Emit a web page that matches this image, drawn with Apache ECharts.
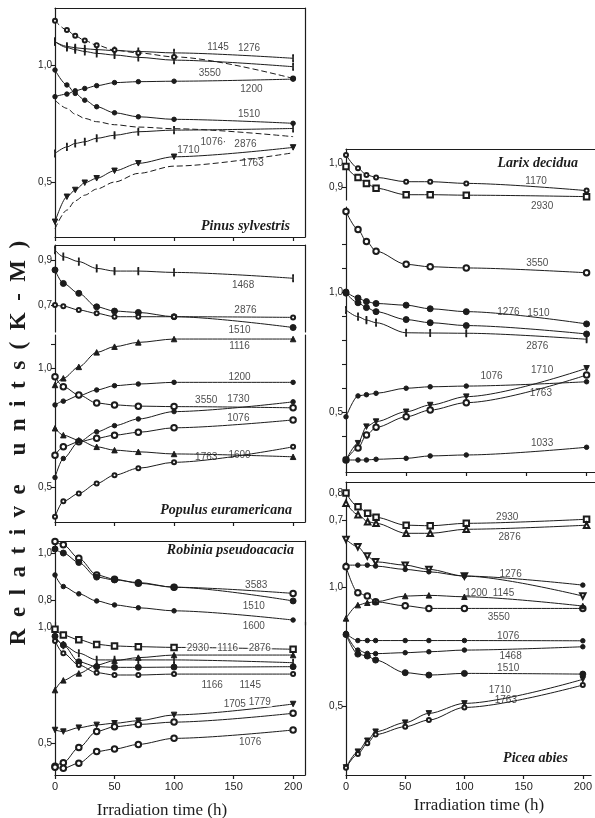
<!DOCTYPE html>
<html>
<head>
<meta charset="UTF-8">
<title>Relative units (K-M) vs irradiation time</title>
<script src="https://cdn.jsdelivr.net/npm/echarts@6/dist/echarts.min.js"></script>
<style>
html, body { margin: 0; padding: 0; background: #fff; }
#main { width: 595px; height: 818px; }
</style>
</head>
<body>
<div id="main"></div>
<script>
// ---- data (irradiation time in h, relative units K-M) ----
var xTicks = [0, 50, 100, 150, 200];

// Pinus sylvestris
var pinusT = [0, 10, 17, 25, 35, 50, 70, 100, 200];
var pinus1145 = [1.10, 1.080, 1.074, 1.070, 1.066, 1.062, 1.058, 1.052, 1.029];
var pinus1276 = [1.10, 1.075, 1.066, 1.058, 1.050, 1.043, 1.033, 1.021, 0.993];
var pinus3550 = [1.19, 1.15, 1.125, 1.105, 1.085, 1.064, 1.052, 1.035, 0.943];
var pinus1200 = [0.865, 0.876, 0.89, 0.90, 0.912, 0.925, 0.929, 0.931, 0.94];
var pinus1510 = [0.979, 0.915, 0.879, 0.85, 0.822, 0.796, 0.779, 0.768, 0.751];
var pinus1076 = [0.85, 0.815, 0.79, 0.772, 0.758, 0.745, 0.735, 0.728, 0.694];
var pinus2876 = [0.622, 0.65, 0.665, 0.672, 0.687, 0.70, 0.715, 0.722, 0.729];
var pinus1710 = [0.33, 0.437, 0.466, 0.497, 0.516, 0.548, 0.58, 0.608, 0.648];
var pinus1763 = [0.30, 0.38, 0.42, 0.444, 0.47, 0.50, 0.537, 0.568, 0.625];

// Populus euramericana
var populusT = [0, 7, 20, 35, 50, 70, 100, 200];
var popTop1468 = [0.944, 0.915, 0.893, 0.863, 0.851, 0.851, 0.845, 0.819];
var popTop1510 = [0.856, 0.796, 0.752, 0.692, 0.673, 0.667, 0.648, 0.60];
var popTop2876 = [0.70, 0.695, 0.678, 0.663, 0.648, 0.648, 0.648, 0.645];
var pop1116 = [0.929, 0.957, 1.005, 1.066, 1.09, 1.108, 1.122, 1.122];
var pop1200 = [0.845, 0.861, 0.884, 0.908, 0.926, 0.933, 0.94, 0.94];
var pop3550 = [0.963, 0.922, 0.887, 0.853, 0.845, 0.84, 0.838, 0.833];
var pop1730 = [0.54, 0.62, 0.69, 0.732, 0.758, 0.786, 0.817, 0.858];
var pop1076 = [0.634, 0.669, 0.69, 0.705, 0.718, 0.73, 0.749, 0.782];
var pop1600 = [0.747, 0.718, 0.697, 0.669, 0.655, 0.648, 0.639, 0.627];
var pop1763 = [0.375, 0.44, 0.473, 0.515, 0.55, 0.579, 0.604, 0.669];

// Robinia pseudoacacia
var robiniaT = [0, 7, 20, 35, 50, 70, 100, 200];
var robTop3583 = [1.048, 1.034, 0.977, 0.906, 0.888, 0.871, 0.854, 0.828];
var robTop1510 = [1.016, 0.999, 0.959, 0.897, 0.885, 0.874, 0.854, 0.796];
var robTop1600 = [0.906, 0.857, 0.826, 0.796, 0.779, 0.767, 0.754, 0.715];
var rob2930 = [0.99, 0.965, 0.945, 0.925, 0.918, 0.915, 0.912, 0.904];
var rob1116 = [0.728, 0.77, 0.80, 0.836, 0.855, 0.868, 0.879, 0.879];
var rob2876 = [0.958, 0.922, 0.887, 0.858, 0.858, 0.858, 0.858, 0.846];
var rob1166 = [0.96, 0.922, 0.85, 0.829, 0.826, 0.826, 0.827, 0.829];
var rob1145 = [0.94, 0.887, 0.836, 0.803, 0.793, 0.793, 0.797, 0.797];
var rob1705 = [0.556, 0.549, 0.566, 0.578, 0.585, 0.596, 0.621, 0.668];
var rob1779 = [0.40, 0.415, 0.48, 0.55, 0.57, 0.58, 0.59, 0.628];
var rob1076 = [0.395, 0.391, 0.413, 0.463, 0.474, 0.494, 0.52, 0.556];

// Larix decidua
var larixT = [0, 10, 17, 25, 50, 70, 100, 200];
var larTop1170 = [1.033, 0.978, 0.95, 0.94, 0.922, 0.922, 0.915, 0.885];
var larTop2930 = [0.985, 0.94, 0.915, 0.895, 0.868, 0.868, 0.866, 0.86];
var lar3550 = [1.335, 1.26, 1.21, 1.17, 1.115, 1.105, 1.10, 1.08];
var lar1276 = [1.0, 0.975, 0.96, 0.952, 0.945, 0.93, 0.918, 0.867];
var lar1510 = [0.995, 0.955, 0.935, 0.918, 0.885, 0.872, 0.86, 0.825];
var lar2876 = [0.925, 0.897, 0.883, 0.872, 0.83, 0.829, 0.828, 0.803];
var lar1076 = [0.48, 0.567, 0.572, 0.578, 0.599, 0.605, 0.608, 0.626];
var lar1710 = [0.30, 0.37, 0.439, 0.46, 0.501, 0.529, 0.564, 0.682];
var lar1763 = [0.30, 0.35, 0.404, 0.436, 0.48, 0.508, 0.539, 0.654];
var lar1033 = [0.30, 0.30, 0.30, 0.303, 0.307, 0.317, 0.321, 0.353];

// Picea abies
var piceaT = [0, 10, 18, 25, 50, 70, 100, 200];
var picTop2930 = [0.80, 0.749, 0.725, 0.71, 0.681, 0.679, 0.688, 0.703];
var picTop2876 = [0.762, 0.72, 0.694, 0.688, 0.651, 0.651, 0.666, 0.681];
var pic1145 = [1.20, 1.169, 1.13, 1.106, 1.092, 1.074, 1.046, 0.962];
var pic1276 = [1.092, 1.092, 1.092, 1.088, 1.074, 1.064, 1.046, 1.008];
var pic3550 = [1.085, 0.976, 0.962, 0.938, 0.921, 0.91, 0.91, 0.91];
var pic1200 = [0.868, 0.924, 0.934, 0.938, 0.962, 0.965, 0.959, 0.92];
var pic1076 = [0.805, 0.775, 0.775, 0.775, 0.775, 0.775, 0.775, 0.774];
var pic1468 = [0.805, 0.735, 0.721, 0.72, 0.724, 0.728, 0.735, 0.749];
var pic1510 = [0.80, 0.718, 0.71, 0.693, 0.64, 0.63, 0.637, 0.634];
var pic1710 = [0.242, 0.308, 0.354, 0.392, 0.43, 0.469, 0.511, 0.612];
var pic1763 = [0.24, 0.298, 0.343, 0.38, 0.413, 0.441, 0.494, 0.588];

// ---- curves: [panel, times, values, marker, dashed] ----
var curves = [
  [0, pinusT, pinus1145, 'tick'], [0, pinusT, pinus1276, 'tick'],
  [0, pinusT, pinus3550, 'small', true], [0, pinusT, pinus1200, 'dot'],
  [0, pinusT, pinus1510, 'dot'], [0, pinusT, pinus1076, 'none', true],
  [0, pinusT, pinus2876, 'tick'], [0, pinusT, pinus1710, 'itri'],
  [0, pinusT, pinus1763, 'none', true],
  [1, populusT, popTop1468, 'tick'], [1, populusT, popTop1510, 'big'], [1, populusT, popTop2876, 'small'],
  [2, populusT, pop1116, 'tri'], [2, populusT, pop1200, 'dot'], [2, populusT, pop3550, 'open'],
  [2, populusT, pop1730, 'dot'], [2, populusT, pop1076, 'open'], [2, populusT, pop1600, 'tri'],
  [2, populusT, pop1763, 'small'],
  [3, robiniaT, robTop3583, 'open'], [3, robiniaT, robTop1510, 'big'], [3, robiniaT, robTop1600, 'dot'],
  [4, robiniaT, rob2930, 'sq'], [4, robiniaT, rob1116, 'tri'], [4, robiniaT, rob2876, 'tick'],
  [4, robiniaT, rob1166, 'big'], [4, robiniaT, rob1145, 'small'], [4, robiniaT, rob1705, 'itri'],
  [4, robiniaT, rob1779, 'open'], [4, robiniaT, rob1076, 'open'],
  [5, larixT, larTop1170, 'small'], [5, larixT, larTop2930, 'sq'],
  [6, larixT, lar3550, 'open'], [6, larixT, lar1276, 'big'], [6, larixT, lar1510, 'big'],
  [6, larixT, lar2876, 'tick'], [6, larixT, lar1076, 'dot'], [6, larixT, lar1710, 'itri'],
  [6, larixT, lar1763, 'open'], [6, larixT, lar1033, 'dot'],
  [7, piceaT, picTop2930, 'sq'], [7, piceaT, picTop2876, 'otri'],
  [8, piceaT, pic1145, 'oitri'], [8, piceaT, pic1276, 'dot'], [8, piceaT, pic3550, 'open'],
  [8, piceaT, pic1200, 'tri'], [8, piceaT, pic1076, 'dot'], [8, piceaT, pic1468, 'dot'],
  [8, piceaT, pic1510, 'big'], [8, piceaT, pic1710, 'itri'], [8, piceaT, pic1763, 'small']
];

// ---- curve names written next to the lines: [text, t, value] ----
var notes = [
  [['1145', 137, 1.077], ['1276', 163, 1.073], ['3550', 130, 0.966], ['1200', 165, 0.897],
   ['1510', 163, 0.79], ['1076·', 133, 0.67], ['2876', 160, 0.662], ['1710', 112, 0.637], ['1763', 166, 0.58]],
  [['1468', 158, 0.789], ['2876', 160, 0.678], ['1510', 155, 0.589]],
  [['1116', 155, 1.092], ['1200', 155, 0.962], ['3550', 127, 0.863], ['1730', 154, 0.868],
   ['1076', 154, 0.791], ['1763', 127, 0.627], ['1600', 155, 0.634]],
  [['3583', 169, 0.864], ['1510', 167, 0.774], ['1600', 167, 0.69]],
  [['2930', 120, 0.908], ['1116', 145, 0.908], ['2876', 172, 0.908], ['1166', 132, 0.75],
   ['1145', 164, 0.75], ['1705', 151, 0.668], ['1779', 172, 0.677], ['1076', 164, 0.504]],
  [['1170', 158, 0.925], ['2930', 163, 0.82]],
  [['3550', 159, 1.12], ['1276', 135, 0.915], ['1510', 160, 0.91], ['2876', 159, 0.775],
   ['1076', 121, 0.65], ['1710', 163, 0.675], ['1763', 162, 0.58], ['1033', 163, 0.37]],
  [['2930', 134, 0.711], ['2876', 136, 0.637]],
  [['1276', 139, 1.055], ['1145', 133, 0.973], ['1200', 110, 0.973], ['3550', 129, 0.875],
   ['1076', 137, 0.794], ['1468', 139, 0.71], ['1510', 137, 0.658], ['1710', 130, 0.567], ['1763', 135, 0.525]]
];

// ---- layout of the sub-plots ----
var ink = '#1c1c1c';
var panels = [
  {left: 55, width: 250, top: 8, height: 229, xmax: 210, ymin: 0.265, ymax: 1.244, yLab: [0.5, 1.0], yTick: [0.5, 1.0], cap: true, base: true},
  {left: 55, width: 250, top: 245, height: 87, xmax: 210, ymin: 0.58, ymax: 0.967, yLab: [0.7, 0.9], yTick: [0.7, 0.9], cap: true},
  {left: 55, width: 250, top: 335, height: 187, xmax: 210, ymin: 0.353, ymax: 1.139, yLab: [0.5, 1.0], yTick: [0.5, 1.0, 1.1], base: true},
  {left: 55, width: 250, top: 541, height: 84, xmax: 210, ymin: 0.694, ymax: 1.05, yLab: [0.8, 1.0], yTick: [0.8, 1.0], cap: true},
  {left: 55, width: 250, top: 622, height: 153, xmax: 210, ymin: 0.362, ymax: 1.0215, yLab: [0.5, 1.0], yTick: [0.5, 1.0], base: true, xLab: true},
  {left: 346, width: 249, top: 149, height: 51, xmax: 207, ymin: 0.846, ymax: 1.058, yLab: [0.9, 1.0], yTick: [0.9, 1.0], cap: true, open: true},
  {left: 346, width: 249, top: 207, height: 265, xmax: 207, ymin: 0.25, ymax: 1.354, yLab: [0.5, 1.0], yTick: [0.4, 0.5, 0.6, 0.7, 0.8, 0.9, 1.0, 1.1, 1.2], base: true, open: true},
  {left: 346, width: 249, top: 482, height: 54, xmax: 207, ymin: 0.641, ymax: 0.841, yLab: [0.7, 0.8], yTick: [0.7, 0.8], cap: true, open: true},
  {left: 346, width: 249, top: 538, height: 237, xmax: 207, ymin: 0.21, ymax: 1.206, yLab: [0.5, 1.0], yTick: [0.5, 1.0], base: true, xLab: true, open: true}
];

function markerOf(kind) {
  switch (kind) {
    case 'dot': return {symbol: 'circle', symbolSize: 4.5};
    case 'big': return {symbol: 'circle', symbolSize: 6};
    case 'open': return {symbol: 'emptyCircle', symbolSize: 5.5};
    case 'small': return {symbol: 'emptyCircle', symbolSize: 4};
    case 'tri': return {symbol: 'triangle', symbolSize: 5.5};
    case 'itri': return {symbol: 'triangle', symbolSize: 5.5, symbolRotate: 180};
    case 'otri': return {symbol: 'emptyTriangle', symbolSize: 5.5};
    case 'oitri': return {symbol: 'emptyTriangle', symbolSize: 5.5, symbolRotate: 180};
    case 'sq': return {symbol: 'emptyRect', symbolSize: 5.5};
    case 'tick': return {symbol: 'rect', symbolSize: [1.3, 6]};
    default: return {symbol: 'none'};
  }
}

function comma(v) { return v.toFixed(1).replace('.', ','); }

var grid = [], xAxis = [], yAxis = [], series = [];
var axisLine = {lineStyle: {color: ink, width: 1.2}, onZero: false};

panels.forEach(function (p, i) {
  grid.push({left: p.left, top: p.top, width: p.width, height: p.height});
  xAxis.push({
    type: 'value', gridIndex: i, position: 'bottom', min: 0, max: p.xmax,
    axisLine: {show: !!p.base, lineStyle: {color: ink, width: 1.2}, onZero: false},
    axisTick: {show: !!p.base, customValues: xTicks, length: 4, lineStyle: {color: ink, width: 1.2}},
    axisLabel: {show: !!p.xLab, customValues: xTicks, color: ink, fontSize: 11,
      fontFamily: 'Liberation Sans', margin: 6},
    splitLine: {show: false}
  });
  yAxis.push({
    type: 'value', gridIndex: i, position: 'left', min: p.ymin, max: p.ymax,
    axisLine: axisLine,
    axisTick: {customValues: p.yTick, length: 4, lineStyle: {color: ink, width: 1.1}},
    axisLabel: {customValues: p.yLab, formatter: comma, color: ink, fontSize: 10,
      fontFamily: 'Liberation Sans', margin: 3},
    splitLine: {show: false}
  });
});

// frame lines: top edge of each species box and right edge of the left column boxes
panels.forEach(function (p, i) {
  xAxis.push({
    type: 'value', gridIndex: i, position: 'top', min: 0, max: 1,
    axisLine: {show: !!p.cap, lineStyle: {color: ink, width: 1.2}, onZero: false},
    axisTick: {show: false}, axisLabel: {show: false}, splitLine: {show: false}
  });
  yAxis.push({
    type: 'value', gridIndex: i, position: 'right', min: 0, max: 1,
    axisLine: {show: !p.open, lineStyle: {color: ink, width: 1.2}, onZero: false},
    axisTick: {show: false}, axisLabel: {show: false}, splitLine: {show: false}
  });
});

curves.forEach(function (c) {
  var m = markerOf(c[3]);
  series.push({
    type: 'line', xAxisIndex: c[0], yAxisIndex: c[0],
    data: c[1].map(function (t, k) { return [t, c[2][k]]; }),
    smooth: 0.3, smoothMonotone: 'x', showAllSymbol: true, clip: false,
    symbol: m.symbol, symbolSize: m.symbolSize, symbolRotate: m.symbolRotate || 0,
    lineStyle: {color: ink, width: 1, type: c[4] ? [6, 3] : 'solid'},
    itemStyle: {color: ink, borderColor: ink, borderWidth: 1},
    emphasis: {disabled: true}, animation: false
  });
});

notes.forEach(function (list, i) {
  series.push({
    type: 'scatter', xAxisIndex: i, yAxisIndex: i, clip: false, silent: true,
    symbolSize: 1, itemStyle: {color: 'rgba(0,0,0,0)'}, z: 5, animation: false,
    data: list.map(function (n) { return {name: n[0], value: [n[1], n[2]]}; }),
    label: {show: true, position: 'inside', formatter: '{b}', color: ink, fontSize: 10,
      fontFamily: 'Liberation Sans', backgroundColor: i === 4 ? '#fff' : 'transparent', padding: [0, 1]}
  });
});

var titleFont = {fontFamily: 'Liberation Serif', fontStyle: 'italic', fontWeight: 'bold', fontSize: 14, color: ink};
var titles = [
  ['Pinus sylvestris', 305, 219], ['Populus euramericana', 303, 503], ['Robinia pseudoacacia', 301, 543],
  ['Larix decidua', 17, 156], ['Picea abies', 27, 751]
];

var chart = echarts.init(document.getElementById('main'));
chart.setOption({
  backgroundColor: '#fff',
  animation: false,
  title: titles.map(function (t) {
    return {text: t[0], right: t[1], top: t[2], padding: 0, textStyle: titleFont};
  }),
  grid: grid,
  xAxis: xAxis,
  yAxis: yAxis,
  series: series,
  graphic: [
    {type: 'text', x: 19, y: 443, rotation: Math.PI / 2,
     style: {text: 'R  e  l  a  t  i  v  e     u  n  i  t  s  (  K  -  M  )', fill: ink,
       font: 'bold 23px "Liberation Serif"', align: 'center', verticalAlign: 'middle',
       textAlign: 'center', textVerticalAlign: 'middle'}},
    {type: 'text', x: 162, y: 811,
     style: {text: 'Irradiation time (h)', fill: ink, font: '17px "Liberation Serif"',
       align: 'center', verticalAlign: 'middle', textAlign: 'center', textVerticalAlign: 'middle'}},
    {type: 'text', x: 479, y: 806,
     style: {text: 'Irradiation time (h)', fill: ink, font: '17px "Liberation Serif"',
       align: 'center', verticalAlign: 'middle', textAlign: 'center', textVerticalAlign: 'middle'}}
  ]
});
</script>
</body>
</html>
